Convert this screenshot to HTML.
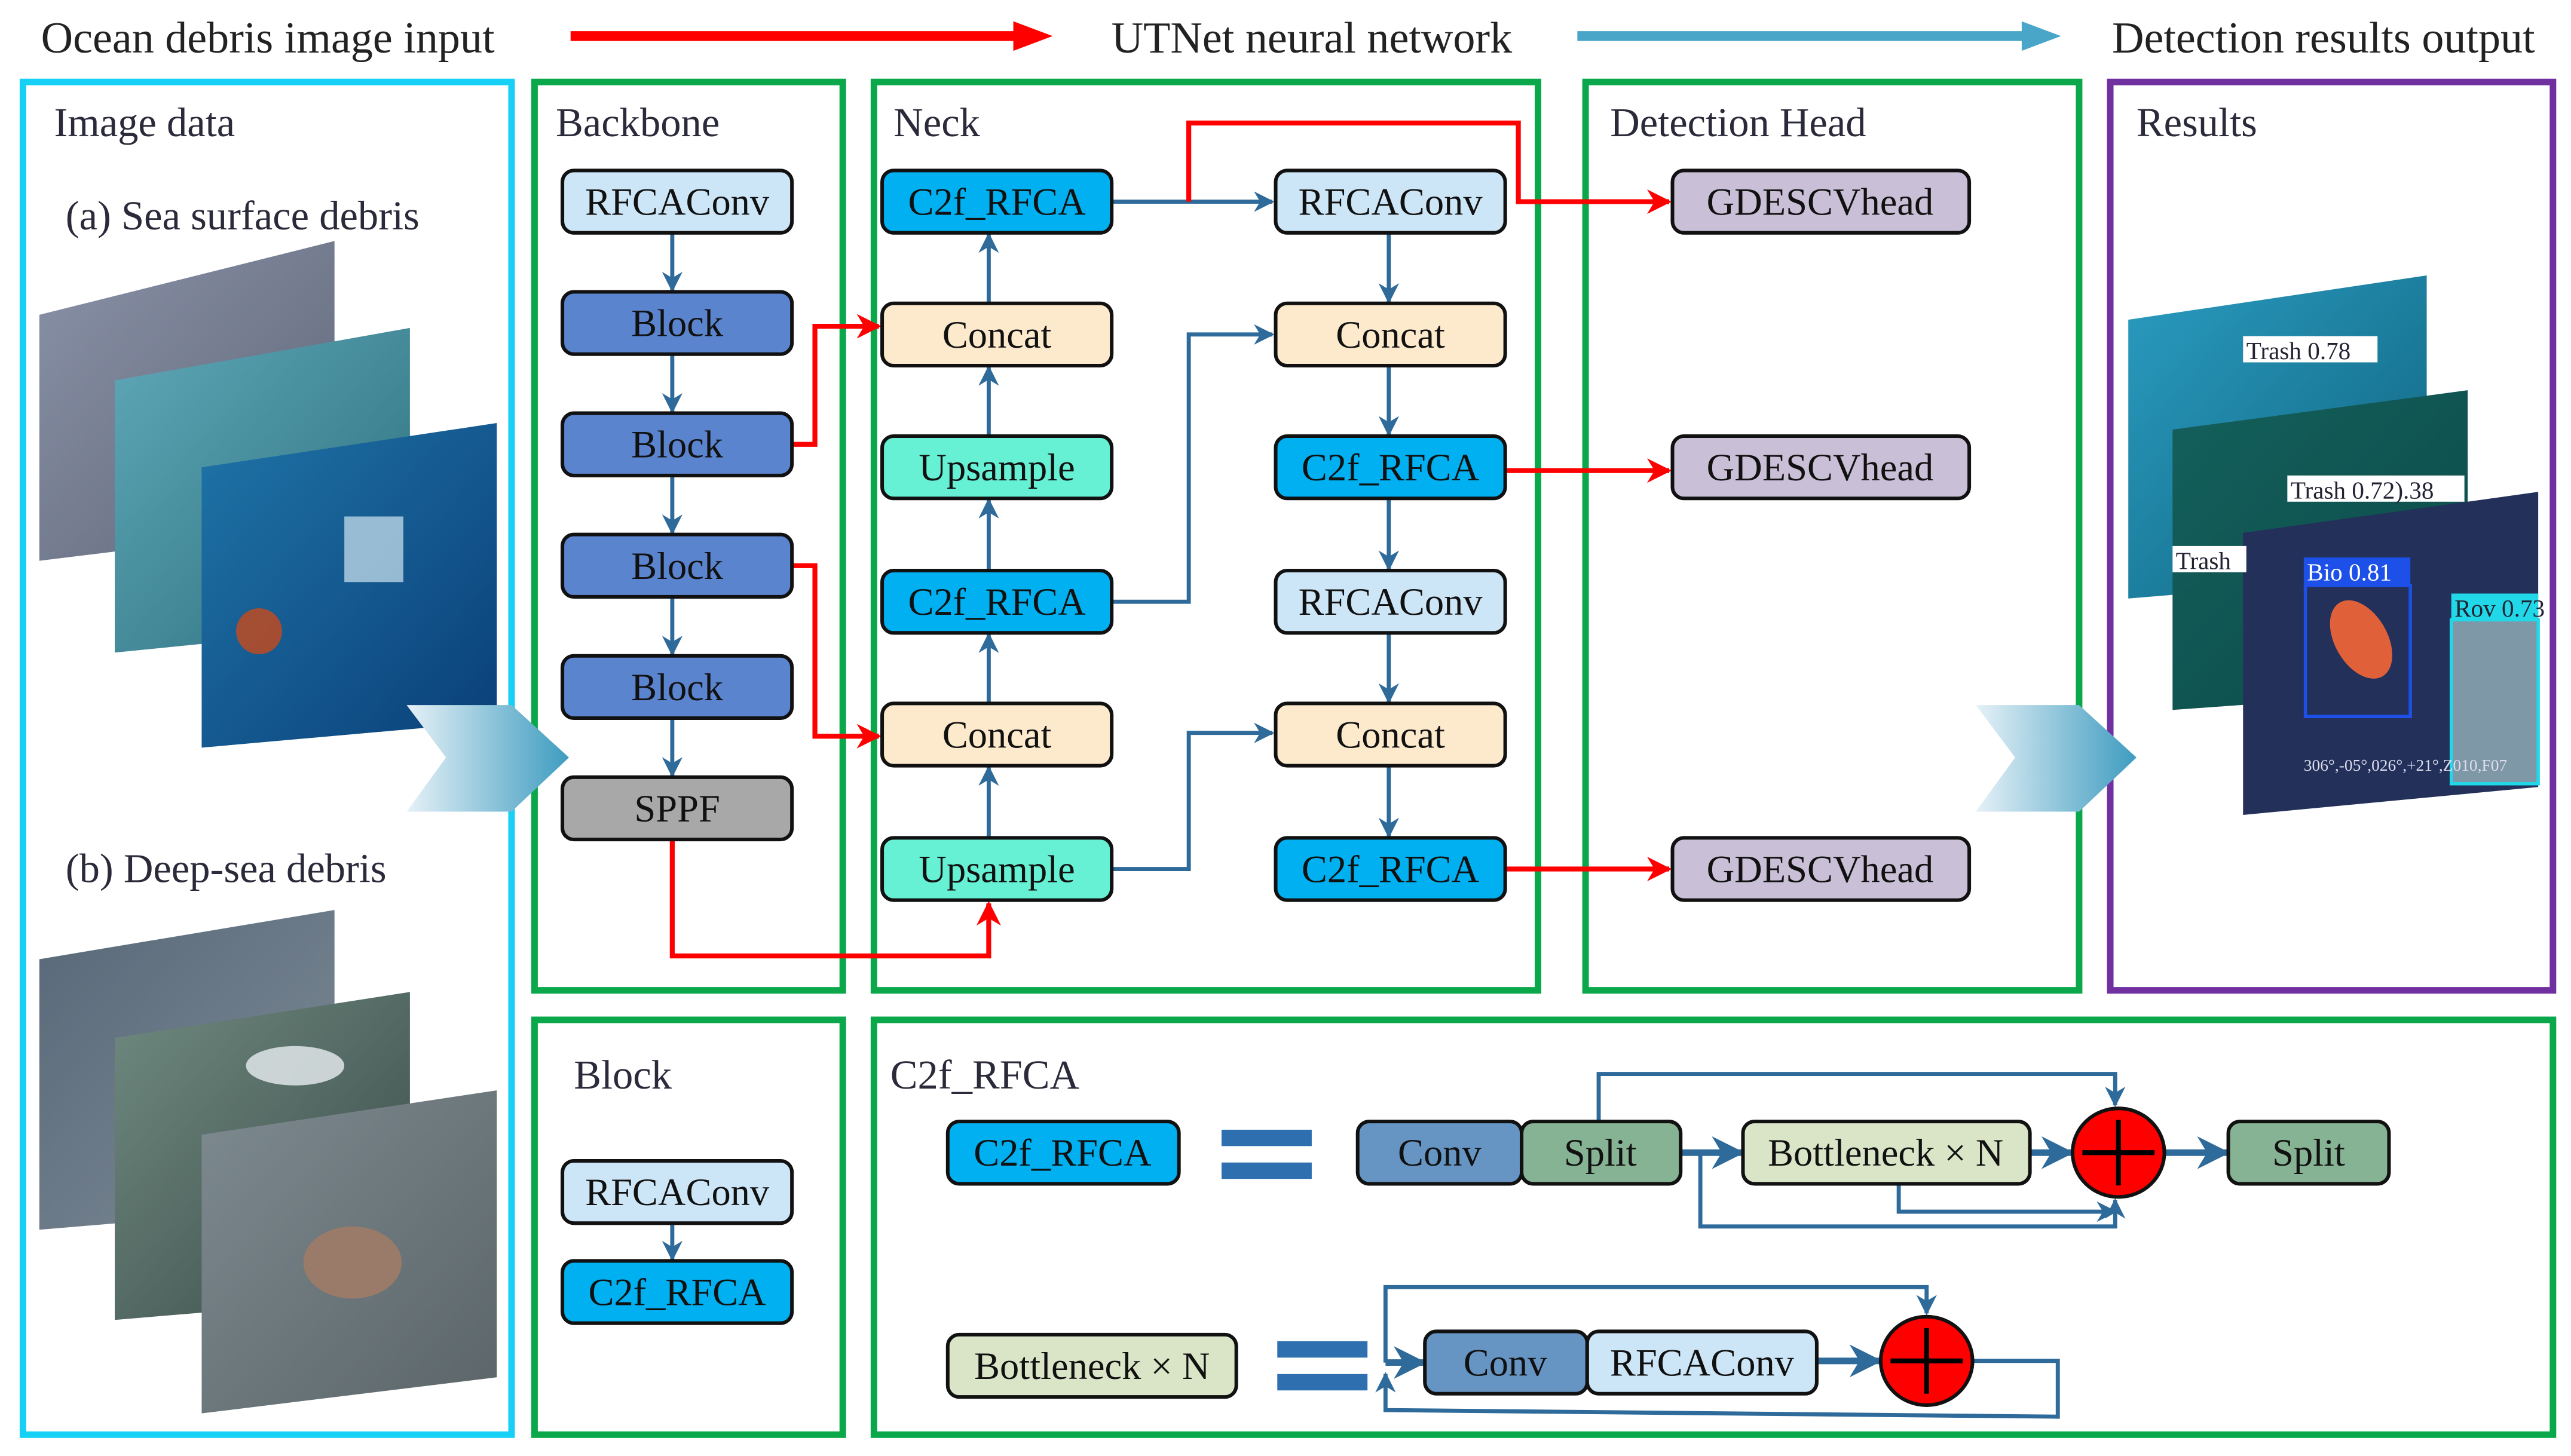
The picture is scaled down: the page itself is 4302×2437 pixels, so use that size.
<!DOCTYPE html>
<html><head><meta charset="utf-8"><style>
html,body{margin:0;padding:0;background:#fff;}
svg{display:block;}
text{font-family:"Liberation Serif",serif;}
</style></head><body>
<svg width="4302" height="2437" viewBox="0 0 1568 888" preserveAspectRatio="none" xmlns="http://www.w3.org/2000/svg">
<defs>
<marker id="ab" viewBox="0 0 10 10" refX="9" refY="5" markerWidth="5" markerHeight="5" orient="auto-start-reverse"><path d="M0,0 L10,5 L0,10 L3,5 z" fill="#2e6a9a"/></marker>
<marker id="ar" viewBox="0 0 10 10" refX="9" refY="5" markerWidth="5" markerHeight="5" orient="auto-start-reverse"><path d="M0,0 L10,5 L0,10 L3,5 z" fill="#ff0000"/></marker>
<linearGradient id="chev" x1="0" x2="1"><stop offset="0" stop-color="#e6f1f7"/><stop offset="1" stop-color="#3e9cc0"/></linearGradient>
<linearGradient id="g1" x1="0" y1="0" x2="1" y2="1"><stop offset="0" stop-color="#8a92a8"/><stop offset="1" stop-color="#5f6678"/></linearGradient>
<linearGradient id="g2" x1="0" y1="0" x2="1" y2="1"><stop offset="0" stop-color="#5fa8b8"/><stop offset="1" stop-color="#2b6e7c"/></linearGradient>
<linearGradient id="g3" x1="0" y1="0" x2="1" y2="1"><stop offset="0" stop-color="#1f74a8"/><stop offset="1" stop-color="#0a3f78"/></linearGradient>
<linearGradient id="d1" x1="0" y1="0" x2="1" y2="1"><stop offset="0" stop-color="#586878"/><stop offset="1" stop-color="#7f8c98"/></linearGradient>
<linearGradient id="d2" x1="0" y1="0" x2="1" y2="1"><stop offset="0" stop-color="#6f8a80"/><stop offset="1" stop-color="#3a4a48"/></linearGradient>
<linearGradient id="d3" x1="0" y1="0" x2="1" y2="1"><stop offset="0" stop-color="#7d8a90"/><stop offset="1" stop-color="#5b6568"/></linearGradient>
<linearGradient id="r1" x1="0" y1="0" x2="1" y2="1"><stop offset="0" stop-color="#2a9cc0"/><stop offset="1" stop-color="#10627e"/></linearGradient>
<linearGradient id="r2" x1="0" y1="0" x2="1" y2="1"><stop offset="0" stop-color="#14605c"/><stop offset="1" stop-color="#0c4a48"/></linearGradient>
</defs>

<text x="25" y="32" font-size="27" fill="#222">Ocean debris image input</text>
<line x1="348" y1="22" x2="622" y2="22" stroke="#ff0000" stroke-width="6"/>
<path d="M618,13 L642,22 L618,31 z" fill="#ff0000"/>
<text x="800" y="32" font-size="27" fill="#222" text-anchor="middle">UTNet neural network</text>
<line x1="962" y1="22" x2="1237" y2="22" stroke="#4aa6c8" stroke-width="6"/>
<path d="M1233,13 L1257,22 L1233,31 z" fill="#4aa6c8"/>
<text x="1546" y="32" font-size="27" fill="#222" text-anchor="end">Detection results output</text>

<g fill="none" stroke-width="4">
<rect x="14" y="50" width="298" height="825" stroke="#16d0f5"/>
<rect x="326" y="50" width="188" height="554" stroke="#0aa84a"/>
<rect x="533" y="50" width="405" height="554" stroke="#0aa84a"/>
<rect x="967" y="50" width="301" height="554" stroke="#0aa84a"/>
<rect x="1287" y="50" width="270" height="554" stroke="#7030a0"/>
<rect x="326" y="622" width="188" height="253" stroke="#0aa84a"/>
<rect x="533" y="622" width="1024" height="253" stroke="#0aa84a"/>
</g>
<g font-size="25" fill="#2a2a3a">
<text x="33" y="83">Image data</text>
<text x="40" y="140">(a) Sea surface debris</text>
<text x="40" y="538">(b) Deep-sea debris</text>
<text x="339" y="83">Backbone</text>
<text x="545" y="83">Neck</text>
<text x="982" y="83">Detection Head</text>
<text x="1303" y="83">Results</text>
<text x="350" y="664">Block</text>
<text x="543" y="664">C2f_RFCA</text>
</g>

<polygon points="24,192 204,147 204,320 24,342" fill="url(#g1)"/>
<polygon points="70,232 250,200 250,380 70,398" fill="url(#g2)"/>
<polygon points="123,285 303,258 303,440 123,456" fill="url(#g3)"/>
<rect x="210" y="315" width="36" height="40" fill="#cfe6f0" opacity="0.7"/>
<circle cx="158" cy="385" r="14" fill="#c84a1c" opacity="0.8"/>
<polygon points="24,585 204,555 204,735 24,750" fill="url(#d1)"/>
<polygon points="70,633 250,605 250,790 70,805" fill="url(#d2)"/>
<polygon points="123,692 303,665 303,840 123,862" fill="url(#d3)"/>
<ellipse cx="215" cy="770" rx="30" ry="22" fill="#9a7a68"/>
<ellipse cx="180" cy="650" rx="30" ry="12" fill="#e8eef0" opacity="0.8"/>

<polygon points="1298,195 1480,168 1480,350 1298,365" fill="url(#r1)"/>
<polygon points="1325,262 1505,238 1505,420 1325,433" fill="url(#r2)"/>
<polygon points="1368,325 1548,300 1548,480 1368,497" fill="#22305a"/>
<rect x="1368" y="205" width="82" height="16" fill="#fff"/><text x="1370" y="219" font-size="15" fill="#223" font-family="Liberation Sans">Trash 0.78</text>
<rect x="1395" y="290" width="108" height="16" fill="#fff"/><text x="1397" y="304" font-size="15" fill="#223" font-family="Liberation Sans">Trash 0.72).38</text>
<rect x="1325" y="333" width="45" height="16" fill="#fff"/><text x="1327" y="347" font-size="15" fill="#223" font-family="Liberation Sans">Trash</text>
<rect x="1405" y="340" width="65" height="17" fill="#1d50e8"/><text x="1407" y="354" font-size="15" fill="#fff" font-family="Liberation Sans">Bio 0.81</text>
<rect x="1406" y="357" width="64" height="80" fill="none" stroke="#1d50e8" stroke-width="2"/>
<ellipse cx="1440" cy="390" rx="16" ry="26" fill="#e0603a" transform="rotate(-30 1440 390)"/>
<rect x="1495" y="362" width="53" height="16" fill="#20d8e8"/><text x="1497" y="376" font-size="15" fill="#223" font-family="Liberation Sans">Rov 0.73</text>
<rect x="1495" y="378" width="53" height="100" fill="#7f98a8" stroke="#20d8e8" stroke-width="2"/>
<text x="1405" y="470" font-size="10" fill="#dde" font-family="Liberation Sans">306°,-05°,026°,+21°,Z010,F07</text>

<polygon points="248,430 312,430 347,462 312,495 248,495 272,462" fill="url(#chev)"/>
<polygon points="1205,430 1268,430 1303,462 1268,495 1205,495 1229,462" fill="url(#chev)"/>

<g stroke="#2e6a9a" stroke-width="2.5" fill="none" marker-end="url(#ab)">
<line x1="410" y1="142" x2="410" y2="177"/>
<line x1="410" y1="216" x2="410" y2="251"/>
<line x1="410" y1="290" x2="410" y2="325"/>
<line x1="410" y1="364" x2="410" y2="399"/>
<line x1="410" y1="438" x2="410" y2="473"/>
<line x1="603" y1="511" x2="603" y2="468"/>
<line x1="603" y1="429" x2="603" y2="387"/>
<line x1="603" y1="348" x2="603" y2="305"/>
<line x1="603" y1="266" x2="603" y2="224"/>
<line x1="603" y1="185" x2="603" y2="143"/>
<line x1="678" y1="123" x2="776" y2="123"/>
<polyline points="678,367 725,367 725,204 776,204"/>
<polyline points="678,530 725,530 725,447 776,447"/>
<line x1="847" y1="142" x2="847" y2="184"/>
<line x1="847" y1="223" x2="847" y2="265"/>
<line x1="847" y1="304" x2="847" y2="347"/>
<line x1="847" y1="386" x2="847" y2="428"/>
<line x1="847" y1="467" x2="847" y2="510"/>
<line x1="410" y1="746" x2="410" y2="768"/>
<polyline points="975,684 975,655 1290,655 1290,674"/>
<line x1="1025" y1="703" x2="1062" y2="703" stroke-width="4"/>
<line x1="1238" y1="703" x2="1263" y2="703" stroke-width="4"/>
<line x1="1320" y1="703" x2="1358" y2="703" stroke-width="4"/>
<polyline points="1037,703 1037,748 1290,748 1290,732"/>
<polyline points="1158,722 1158,739 1290,739"/>
<polyline points="845,831 845,785 1175,785 1175,801"/>
<line x1="845" y1="831" x2="868" y2="831" stroke-width="4"/>
<line x1="1108" y1="830" x2="1146" y2="830" stroke-width="4"/>
<polyline points="1203,830 1255,830 1255,864 845,860 845,838"/>
</g>
<g stroke="#ff0000" stroke-width="3" fill="none" marker-end="url(#ar)">
<polyline points="483,271 497,271 497,199 536,199"/>
<polyline points="483,345 497,345 497,449 536,449"/>
<polyline points="410,512 410,583 603,583 603,551"/>
<polyline points="725,123 725,75 926,75 926,123 1018,123"/>
<line x1="918" y1="287" x2="1018" y2="287"/>
<line x1="918" y1="530" x2="1018" y2="530"/>
</g>

<g fill="#2e6fb0">
<rect x="745" y="689" width="55" height="10"/><rect x="745" y="709" width="55" height="10"/>
<rect x="779" y="818" width="55" height="10"/><rect x="779" y="838" width="55" height="10"/>
</g>

<g stroke="#111" stroke-width="2.2">
<rect x="343" y="104" width="140" height="38" rx="7" fill="#cde6f7"/>
<rect x="343" y="178" width="140" height="38" rx="7" fill="#5b84cf"/>
<rect x="343" y="252" width="140" height="38" rx="7" fill="#5b84cf"/>
<rect x="343" y="326" width="140" height="38" rx="7" fill="#5b84cf"/>
<rect x="343" y="400" width="140" height="38" rx="7" fill="#5b84cf"/>
<rect x="343" y="474" width="140" height="38" rx="7" fill="#a8a8a8"/>
<rect x="538" y="104" width="140" height="38" rx="7" fill="#00b0f0"/>
<rect x="538" y="185" width="140" height="38" rx="7" fill="#fde9cc"/>
<rect x="538" y="266" width="140" height="38" rx="7" fill="#66f0d4"/>
<rect x="538" y="348" width="140" height="38" rx="7" fill="#00b0f0"/>
<rect x="538" y="429" width="140" height="38" rx="7" fill="#fde9cc"/>
<rect x="538" y="511" width="140" height="38" rx="7" fill="#66f0d4"/>
<rect x="778" y="104" width="140" height="38" rx="7" fill="#cde6f7"/>
<rect x="778" y="185" width="140" height="38" rx="7" fill="#fde9cc"/>
<rect x="778" y="266" width="140" height="38" rx="7" fill="#00b0f0"/>
<rect x="778" y="348" width="140" height="38" rx="7" fill="#cde6f7"/>
<rect x="778" y="429" width="140" height="38" rx="7" fill="#fde9cc"/>
<rect x="778" y="511" width="140" height="38" rx="7" fill="#00b0f0"/>
<rect x="1020" y="104" width="181" height="38" rx="7" fill="#c9bfd7"/>
<rect x="1020" y="266" width="181" height="38" rx="7" fill="#c9bfd7"/>
<rect x="1020" y="511" width="181" height="38" rx="7" fill="#c9bfd7"/>
<rect x="343" y="708" width="140" height="38" rx="7" fill="#cde6f7"/>
<rect x="343" y="769" width="140" height="38" rx="7" fill="#00b0f0"/>
<rect x="578" y="684" width="141" height="38" rx="7" fill="#00b0f0"/>
<rect x="828" y="684" width="100" height="38" rx="7" fill="#6695c4"/>
<rect x="928" y="684" width="97" height="38" rx="7" fill="#86b393"/>
<rect x="1063" y="684" width="175" height="38" rx="7" fill="#dae5c8"/>
<rect x="1359" y="684" width="98" height="38" rx="7" fill="#86b393"/>
<rect x="578" y="814" width="176" height="38" rx="7" fill="#dae5c8"/>
<rect x="869" y="812" width="99" height="38" rx="7" fill="#6695c4"/>
<rect x="968" y="812" width="140" height="38" rx="7" fill="#cde6f7"/>
<ellipse cx="1292" cy="703" rx="28" ry="27" fill="#ff0000"/>
<ellipse cx="1175" cy="830" rx="28" ry="27" fill="#ff0000"/>
</g>
<g stroke="#000" stroke-width="3">
<line x1="1270" y1="703" x2="1314" y2="703"/><line x1="1292" y1="683" x2="1292" y2="723"/>
<line x1="1153" y1="830" x2="1197" y2="830"/><line x1="1175" y1="810" x2="1175" y2="850"/>
</g>

<g font-size="23.5" fill="#111" text-anchor="middle">
<text x="413" y="131">RFCAConv</text>
<text x="413" y="205">Block</text>
<text x="413" y="279">Block</text>
<text x="413" y="353">Block</text>
<text x="413" y="427">Block</text>
<text x="413" y="501">SPPF</text>
<text x="608" y="131">C2f_RFCA</text>
<text x="608" y="212">Concat</text>
<text x="608" y="293">Upsample</text>
<text x="608" y="375">C2f_RFCA</text>
<text x="608" y="456">Concat</text>
<text x="608" y="538">Upsample</text>
<text x="848" y="131">RFCAConv</text>
<text x="848" y="212">Concat</text>
<text x="848" y="293">C2f_RFCA</text>
<text x="848" y="375">RFCAConv</text>
<text x="848" y="456">Concat</text>
<text x="848" y="538">C2f_RFCA</text>
<text x="1110" y="131">GDESCVhead</text>
<text x="1110" y="293">GDESCVhead</text>
<text x="1110" y="538">GDESCVhead</text>
<text x="413" y="735">RFCAConv</text>
<text x="413" y="796">C2f_RFCA</text>
<text x="648" y="711">C2f_RFCA</text>
<text x="878" y="711">Conv</text>
<text x="976" y="711">Split</text>
<text x="1150" y="711">Bottleneck × N</text>
<text x="1408" y="711">Split</text>
<text x="666" y="841">Bottleneck × N</text>
<text x="918" y="839">Conv</text>
<text x="1038" y="839">RFCAConv</text>
</g>
</svg>
</body></html>
